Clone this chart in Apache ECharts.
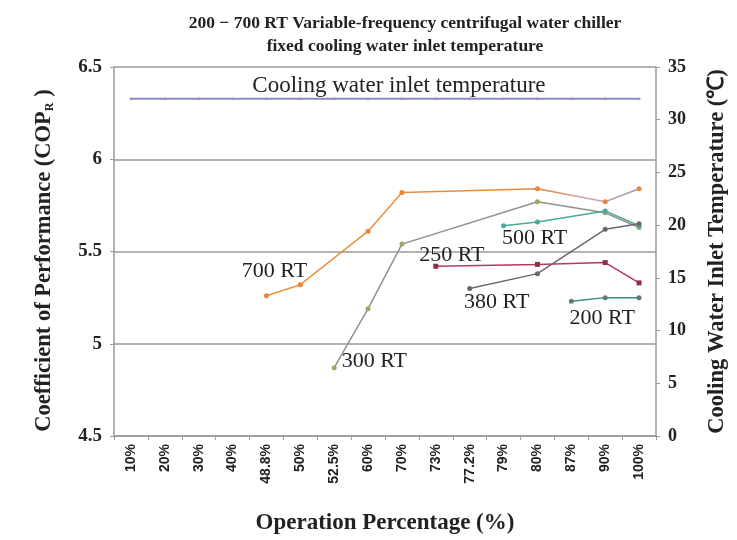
<!DOCTYPE html>
<html>
<head>
<meta charset="utf-8">
<script src="https://cdn.jsdelivr.net/npm/echarts@6/dist/echarts.min.js"></script>
<style>
  html, body { margin: 0; padding: 0; background: #fff; }
  #chart { width: 737px; height: 540px; }
</style>
</head>
<body>
<div id="chart"></div>
<script>
// operation percentage categories
var categories = ["10%", "20%", "30%", "40%", "48.8%", "50%", "52.5%", "60%",
  "70%", "73%", "77.2%", "79%", "80%", "87%", "90%", "100%"];

// COP values per chiller size (null = not measured)
var rt700 = [null, null, null, null, 5.26, 5.32, null, 5.61, 5.82, null, null, null, 5.84, null, 5.77, 5.84];
var rt300 = [null, null, null, null, null, null, 4.87, 5.19, 5.54, null, null, null, 5.77, null, 5.71, 5.63];
var rt500 = [null, null, null, null, null, null, null, null, null, null, null, 5.64, 5.66, null, 5.72, 5.64];
var rt250 = [null, null, null, null, null, null, null, null, null, 5.42, null, null, 5.43, null, 5.44, 5.33];
var rt380 = [null, null, null, null, null, null, null, null, null, null, 5.30, null, 5.38, null, 5.62, 5.65];
var rt200 = [null, null, null, null, null, null, null, null, null, null, null, null, null, 5.23, 5.25, 5.25];

// cooling water inlet temperature (right axis)
var coolingTemp = [32, 32, 32, 32, 32, 32, 32, 32, 32, 32, 32, 32, 32, 32, 32, 32];

var leftTicks = [4.5, 5, 5.5, 6, 6.5];
var rightTicks = [0, 5, 10, 15, 20, 25, 30, 35];

var serif = "Liberation Serif";

// put a text label on one point of a series
function withLabel(values, idx, label) {
  return values.map(function (v, i) {
    if (i !== idx) return v;
    return {
      value: v,
      label: Object.assign({
        show: true,
        fontFamily: serif,
        fontSize: 22,
        color: "#222"
      }, label)
    };
  });
}

function lineSeries(name, data, color, symbolColor, symbol) {
  return {
    name: name,
    type: "line",
    yAxisIndex: 0,
    data: data,
    connectNulls: true,
    symbol: symbol || "circle",
    symbolSize: 5,
    lineStyle: { color: color, width: 1.5 },
    itemStyle: { color: symbolColor || color },
    z: 3
  };
}

var chart = echarts.init(document.getElementById("chart"));

chart.setOption({
  backgroundColor: "#fff",
  animation: false,
  title: {
    text: "200 \u2212 700 RT Variable-frequency centrifugal water chiller\nfixed cooling water inlet temperature",
    left: 400,
    top: 7,
    textAlign: "center",
    textStyle: {
      fontFamily: serif,
      fontWeight: "bold",
      fontSize: 17.5,
      lineHeight: 23,
      color: "#222"
    }
  },
  grid: {
    left: 114,
    right: 79,
    top: 67,
    bottom: 104
  },
  xAxis: {
    type: "category",
    data: categories,
    name: "Operation Percentage (%)",
    nameLocation: "middle",
    nameGap: 76,
    nameTextStyle: {
      fontFamily: serif,
      fontWeight: "bold",
      fontSize: 23,
      color: "#222"
    },
    axisLine: { lineStyle: { color: "#9a9a9a", width: 1.5 } },
    axisTick: { show: true, length: 4, lineStyle: { color: "#9a9a9a" } },
    axisLabel: {
      rotate: 90,
      fontFamily: "Liberation Sans",
      fontWeight: "bold",
      fontSize: 14,
      color: "#222",
      margin: 8
    }
  },
  yAxis: [
    {
      type: "value",
      min: leftTicks[0],
      max: leftTicks[leftTicks.length - 1],
      interval: 0.5,
      name: "Coefficient of Performance (COP{sub|R} )",
      nameLocation: "middle",
      nameRotate: 90,
      nameGap: 58,
      nameTextStyle: {
        fontFamily: serif,
        fontWeight: "bold",
        fontSize: 22.5,
        color: "#222",
        padding: [0, 18, 0, 0],
        rich: {
          sub: {
            fontFamily: serif,
            fontWeight: "bold",
            fontSize: 12,
            color: "#222",
            verticalAlign: "bottom",
            padding: [12, 0, 0, 0]
          }
        }
      },
      axisLine: { show: true, lineStyle: { color: "#9a9a9a", width: 1.5 } },
      axisTick: { show: true, length: 4, lineStyle: { color: "#9a9a9a" } },
      splitLine: { show: true, lineStyle: { color: "#9a9a9a", width: 1.5 } },
      axisLabel: {
        fontFamily: serif,
        fontWeight: "bold",
        fontSize: 19,
        color: "#222",
        margin: 12
      }
    },
    {
      type: "value",
      min: rightTicks[0],
      max: rightTicks[rightTicks.length - 1],
      interval: 5,
      position: "right",
      name: "Cooling Water Inlet Temperature (\u2103)",
      nameLocation: "middle",
      nameRotate: 90,
      nameGap: 50,
      nameTextStyle: {
        fontFamily: serif,
        fontWeight: "bold",
        fontSize: 22.5,
        color: "#222"
      },
      axisLine: { show: true, lineStyle: { color: "#9a9a9a", width: 1.5 } },
      axisTick: { show: true, length: 4, lineStyle: { color: "#9a9a9a" } },
      splitLine: { show: false },
      axisLabel: {
        fontFamily: serif,
        fontWeight: "bold",
        fontSize: 18,
        color: "#222",
        margin: 12
      }
    }
  ],
  series: [
    {
      name: "Cooling water inlet temperature",
      type: "line",
      yAxisIndex: 1,
      data: withLabel(coolingTemp, 8, {
        position: "top",
        formatter: "Cooling water inlet temperature",
        fontSize: 23,
        offset: [-3, 5]
      }),
      symbol: "circle",
      symbolSize: 3,
      lineStyle: { color: "#8a8ad0", width: 2 },
      itemStyle: { color: "#a0a0b0" },
      z: 2
    },
    lineSeries("700 RT", withLabel(rt700, 4, {
      position: "top",
      formatter: "700 RT",
      offset: [8, -6]
    }), new echarts.graphic.LinearGradient(0, 0, 1, 0, [
      { offset: 0, color: "#e8963c" },
      { offset: 0.74, color: "#e8863c" },
      { offset: 0.84, color: "#d8a0b0" },
      { offset: 1, color: "#a89aa0" }
    ]), "#e8863c"),
    lineSeries("300 RT", withLabel(rt300, 6, {
      position: "right",
      formatter: "300 RT",
      offset: [0, -7]
    }), "#8e9486", "#9aa860"),
    lineSeries("500 RT", withLabel(rt500, 11, {
      position: "bottom",
      formatter: "500 RT",
      offset: [31, -6]
    }), "#4aa89c", "#4aa89c"),
    lineSeries("250 RT", withLabel(rt250, 9, {
      position: "top",
      formatter: "250 RT",
      offset: [16, 7]
    }), "#b8385a", "#8a3048", "rect"),
    lineSeries("380 RT", withLabel(rt380, 10, {
      position: "bottom",
      formatter: "380 RT",
      offset: [27, -5]
    }), "#6e6470", "#6e6470"),
    lineSeries("200 RT", withLabel(rt200, 14, {
      position: "bottom",
      formatter: "200 RT",
      offset: [-3, 2]
    }), "#3a8a7e", "#607a78")
  ]
});
</script>
</body>
</html>
